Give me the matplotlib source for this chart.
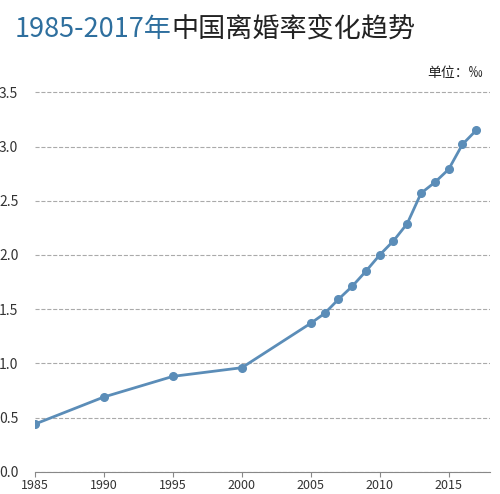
import matplotlib.pyplot as plt

plt.rcParams['font.family'] = ['Noto Sans CJK SC', 'DejaVu Sans']

years = [1985, 1990, 1995, 2000, 2005, 2006, 2007, 2008, 2009, 2010,
         2011, 2012, 2013, 2014, 2015, 2016, 2017]
rates = [0.44, 0.69, 0.88, 0.96, 1.37, 1.46, 1.59, 1.71, 1.85, 2.00,
         2.13, 2.29, 2.57, 2.67, 2.79, 3.02, 3.15]
yticks = [0.0, 0.5, 1.0, 1.5, 2.0, 2.5, 3.0, 3.5]
xticks = [1985, 1990, 1995, 2000, 2005, 2010, 2015]

fig = plt.figure(figsize=(5.0, 4.94), dpi=100)
ax = fig.add_axes([0.07, 0.045, 0.91, 0.79])

ax.plot(years, rates, color='#5b8db8', lw=2, marker='o', ms=5.5, zorder=3)

ax.set_xlim(1985, 2018)
ax.set_ylim(0, 3.6)
ax.set_yticks(yticks)
ax.set_yticklabels([f'{v:.1f}' for v in yticks])
ax.set_xticks(xticks)
ax.grid(axis='y', ls='--', color='#aaaaaa', lw=0.8)
for s in ['top', 'right', 'left']:
    ax.spines[s].set_visible(False)
ax.spines['bottom'].set_color('#888888')
ax.tick_params(axis='y', length=0, labelsize=10, colors='#333333', pad=12)
ax.tick_params(axis='x', labelsize=9, colors='#333333', color='#888888', pad=2)

t1 = fig.text(0.03, 0.925, '1985-2017年', color='#2e6f9e', fontsize=19.5, fontweight='medium')
fig.canvas.draw()
bb = t1.get_window_extent().transformed(fig.transFigure.inverted())
fig.text(bb.x1, 0.925, '中国离婚率变化趋势', color='#222222', fontsize=19.5, fontweight='medium')
fig.text(0.965, 0.845, '单位：‰', ha='right', fontsize=10, color='#222222')

fig.savefig('out.png')
